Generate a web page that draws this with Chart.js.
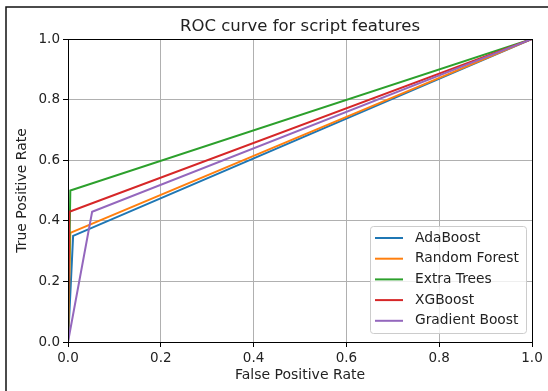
<!DOCTYPE html>
<html>
<head>
<meta charset="utf-8">
<script src="https://cdn.jsdelivr.net/npm/chart.js@4"></script>
<style>
  html,body{margin:0;padding:0;background:#fff;}
  #wrap{width:548px;height:391px;position:relative;}
</style>
</head>
<body>
<div id="wrap"><canvas id="roc" width="548" height="391"></canvas></div>
<script>
const MODELS=['AdaBoost','Random Forest','Extra Trees','XGBoost','Gradient Boost'];
const COLORS=['#1f77b4','#ff7f0e','#2ca02c','#d62728','#9467bd'];
const FPR=[
  [0,0.011,1],
  [0,0.005,1],
  [0,0.005,1],
  [0,0.003,1],
  [0,0.052,1],
];
const TPR=[
  [0,0.35,1],
  [0,0.36,1],
  [0,0.50,1],
  [0,0.43,1],
  [0,0.43,1],
];
const TICKS=[0,0.2,0.4,0.6,0.8,1.0];
const TITLE='ROC curve for script features';

const FONT='"DejaVu Sans", sans-serif';

// outer screenshot frame, title over the plot, top/right spines, legend inside plot
const frame={id:'frame',
  beforeDraw(c){
    const ctx=c.ctx,a=c.chartArea;
    ctx.save();
    ctx.strokeStyle='#111';ctx.lineWidth=1.5;
    ctx.beginPath();ctx.moveTo(6,391);ctx.lineTo(6,7);ctx.lineTo(548,7);ctx.stroke();
    ctx.fillStyle='#222';ctx.font='16.5px '+FONT;ctx.textAlign='center';ctx.textBaseline='middle';
    ctx.fillText(TITLE,(a.left+a.right)/2,27);
    ctx.restore();
  },
  afterDatasetsDraw(c){
    const ctx=c.ctx,a=c.chartArea;
    ctx.save();
    ctx.strokeStyle='#000';ctx.lineWidth=1;
    ctx.strokeRect(Math.round(a.left)+0.5,Math.round(a.top)+0.5,Math.round(a.right-a.left),Math.round(a.bottom-a.top));
    // legend, lower right
    const w=156,h=107,x=a.right-6-w,y=a.bottom-9-h;
    ctx.fillStyle='rgba(255,255,255,0.8)';ctx.strokeStyle='#ccc';
    ctx.beginPath();ctx.roundRect(x+0.5,y+0.5,w,h,3);ctx.fill();ctx.stroke();
    ctx.font='13.8px '+FONT;ctx.textBaseline='middle';
    MODELS.forEach((m,i)=>{
      const ly=y+12+i*20.7;
      ctx.strokeStyle=COLORS[i];ctx.lineWidth=2;
      ctx.beginPath();ctx.moveTo(x+5,ly);ctx.lineTo(x+33,ly);ctx.stroke();
      ctx.fillStyle='#222';ctx.fillText(m,x+45,ly);
    });
    ctx.restore();
  }
};

new Chart(document.getElementById('roc'),{type:'line',
  data:{datasets:MODELS.map((m,i)=>({label:m,data:FPR[i].map((f,j)=>({x:f,y:TPR[i][j]})),
    borderColor:COLORS[i],backgroundColor:COLORS[i],borderWidth:2,pointRadius:0,tension:0,order:MODELS.length-i}))},
  options:{responsive:false,animation:false,
    layout:{padding:{left:0,right:16,top:39,bottom:0}},
    plugins:{legend:{display:false},tooltip:{enabled:false},title:{display:false}},
    scales:{
      x:{type:'linear',min:0,max:1,
        afterFit(s){s.height=49;},
        afterBuildTicks(s){s.ticks=TICKS.map(v=>({value:v}));},
        ticks:{color:'#222',font:{family:FONT,size:13.5},padding:3,maxRotation:0,callback:v=>v.toFixed(1)},
        grid:{color:'#b0b0b0',lineWidth:1,tickColor:'#000',tickLength:5},
        border:{color:'#000',width:1},
        title:{display:true,text:'False Positive Rate',color:'#222',font:{family:FONT,size:14},padding:{top:8,bottom:7}}},
      y:{type:'linear',min:0,max:1,
        afterFit(s){s.width=68;},
        afterBuildTicks(s){s.ticks=TICKS.map(v=>({value:v}));},
        ticks:{color:'#222',font:{family:FONT,size:13.5},padding:3,callback:v=>v.toFixed(1)},
        grid:{color:'#b0b0b0',lineWidth:1,tickColor:'#000',tickLength:5},
        border:{color:'#000',width:1},
        title:{display:true,text:'True Positive Rate',color:'#222',font:{family:FONT,size:14},padding:{top:14,bottom:14}}}
    }
  },
  plugins:[frame]
});
</script>
</body>
</html>
